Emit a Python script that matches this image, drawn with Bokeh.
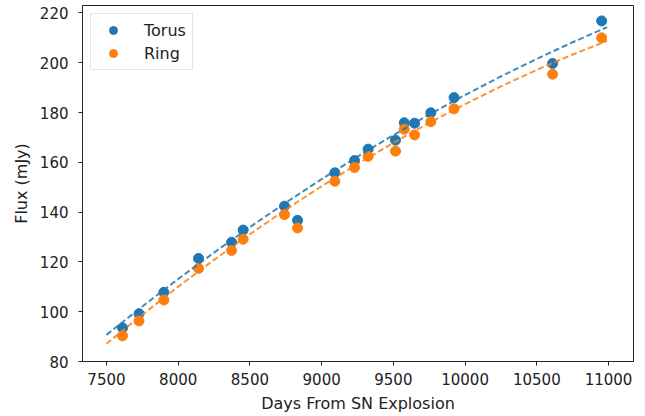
from bokeh.plotting import figure
from bokeh.models import Range1d, FixedTicker, Legend, LegendItem
from bokeh.embed import file_html
from bokeh.resources import INLINE

# Observations (days from SN explosion) and fluxes (mJy)
days = [7612, 7727, 7900, 8142, 8372, 8453, 8741, 8832, 9092, 9229, 9324,
        9515, 9576, 9648, 9761, 9923, 10610, 10952]
torus = [93.5, 99.2, 107.8, 121.4, 127.9, 132.8, 142.4, 136.7, 155.8, 160.7,
         165.3, 168.9, 175.9, 175.7, 179.9, 186.0, 199.7, 216.8]
ring = [90.3, 96.3, 104.7, 117.4, 124.6, 129.1, 139.0, 133.6, 152.4, 157.9,
        162.4, 164.5, 173.3, 171.0, 176.3, 181.5, 195.4, 210.0]

fit_days = [7500, 7750, 8000, 8250, 8500, 8750, 9000, 9250, 9500, 9750,
            10000, 10250, 10500, 10750, 10990]
torus_fit = [90.70, 102.11, 113.13, 123.75, 133.98, 143.81, 153.25, 162.29,
             170.94, 179.19, 187.05, 194.51, 201.58, 208.25, 214.29]
ring_fit = [87.10, 98.80, 110.05, 120.83, 131.15, 141.01, 150.41, 159.35,
            167.83, 175.85, 183.41, 190.50, 197.14, 203.31, 208.80]

x_ticks = [7500, 8000, 8500, 9000, 9500, 10000, 10500, 11000]
y_ticks = [80, 100, 120, 140, 160, 180, 200, 220]

BLUE = "#1f77b4"
ORANGE = "#ff7f0e"
FONT = "DejaVu Sans"

p = figure(width=637, height=415, output_backend="svg", toolbar_location=None,
           x_range=Range1d(7333, 11174), y_range=Range1d(80, 223),
           min_border_left=82, min_border_right=4, min_border_top=5,
           min_border_bottom=52)

p.xgrid.visible = False
p.ygrid.visible = False
p.outline_line_color = "#222222"
p.outline_line_width = 1
p.background_fill_color = "white"
p.border_fill_color = "white"

r1 = p.scatter(days, torus, size=10, color=BLUE)
r2 = p.scatter(days, ring, size=10, color=ORANGE)
p.line(fit_days, torus_fit, line_color=BLUE, line_width=2, line_dash="6 3", line_alpha=0.85)
p.line(fit_days, ring_fit, line_color=ORANGE, line_width=2, line_dash="6 3", line_alpha=0.85)

for ax in (p.xaxis[0], p.yaxis[0]):
    ax.major_label_text_font = FONT
    ax.major_label_text_font_size = "15px"
    ax.major_label_text_color = "#222222"
    ax.axis_label_text_font = FONT
    ax.axis_label_text_font_size = "16px"
    ax.axis_label_text_font_style = "normal"
    ax.axis_label_text_color = "#222222"
    ax.axis_line_color = "#222222"
    ax.major_tick_line_color = "#222222"
    ax.major_tick_out = 4
    ax.major_tick_in = 0
    ax.minor_tick_line_color = None

p.xaxis[0].ticker = FixedTicker(ticks=x_ticks)
p.yaxis[0].ticker = FixedTicker(ticks=y_ticks)
p.xaxis[0].axis_label = "Days From SN Explosion"
p.yaxis[0].axis_label = "Flux (mJy)"
p.xaxis[0].major_label_standoff = 7
p.xaxis[0].axis_label_standoff = 6
p.yaxis[0].major_label_standoff = 10
p.yaxis[0].axis_label_standoff = 6

legend = Legend(items=[LegendItem(label="Torus", renderers=[r1]),
                       LegendItem(label="Ring", renderers=[r2])],
                location="top_left", margin=8, padding=6, spacing=3,
                glyph_width=32, glyph_height=20, label_standoff=15,
                label_text_font=FONT, label_text_font_size="16px",
                label_text_color="#222222",
                border_line_color="#cccccc", border_line_width=1,
                background_fill_alpha=0.8)
p.add_layout(legend)

open("out.html", "w").write(file_html(p, INLINE))
